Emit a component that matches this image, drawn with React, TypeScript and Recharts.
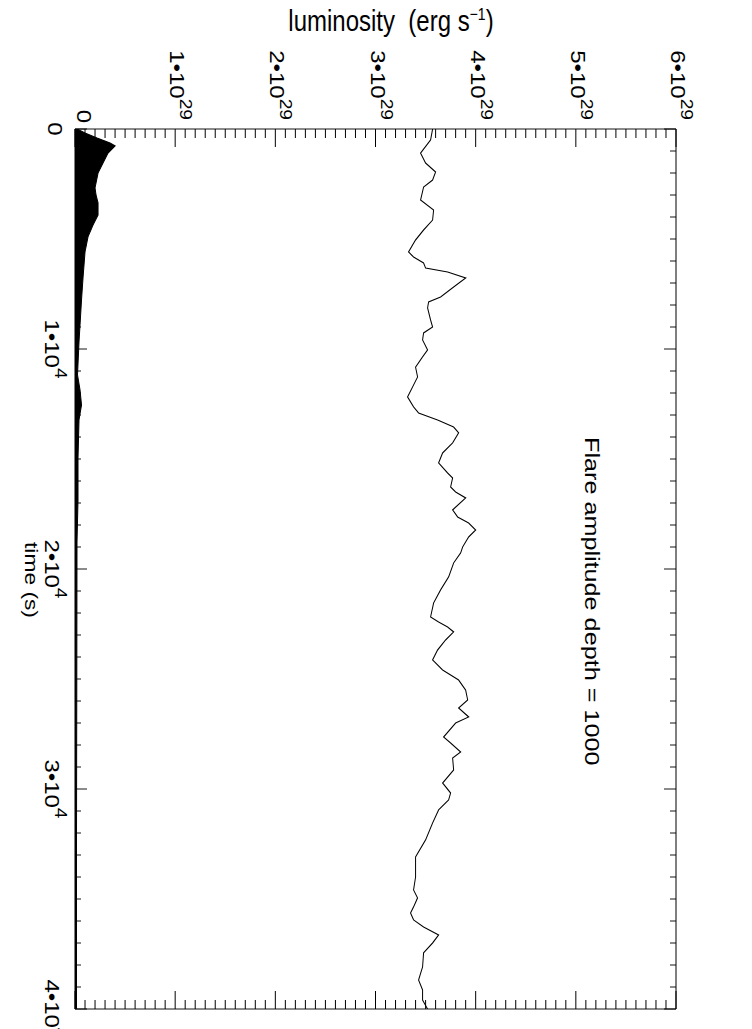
import React from "react";
import { ComposedChart, Line, Area, XAxis, YAxis } from "recharts";

// Page is 752 x 1029; the chart is drawn unrotated and turned 90deg clockwise.
const S = 1.2; // stretch along the time direction
const PAGE_W = 752;
const PAGE_H = 1029;
const CW = PAGE_H / S; // unrotated chart width
const CH = PAGE_W; // unrotated chart height

// Quiescent + flare light curve (time in s, luminosity in 1e29 erg/s)
const LINE_TIME = [0, 500, 1090, 1545, 1955, 2320, 2640, 3230, 3680, 4140, 4590, 5045, 5590, 5820, 6090, 6320, 6500, 6770, 7180, 7635, 7860, 8135, 8680, 9000, 9270, 9590, 10045, 10360, 10820, 11270, 11725, 12180, 12635, 12910, 13225, 13545, 13815, 14270, 14725, 15180, 15635, 15860, 16270, 16500, 16770, 17315, 17635, 17910, 18225, 18545, 19000, 19270, 19725, 20360, 20950, 21545, 22180, 22410, 22635, 22860, 23225, 23680, 24135, 24590, 25045, 25500, 25950, 26315, 26725, 27000, 27635, 27905, 28315, 28590, 29135, 29725, 30180, 30500, 30950, 31545, 32315, 33090, 34000, 34590, 34950, 35360, 35635, 35950, 36270, 36635, 37000, 37450, 38090, 38680, 39135, 39590, 40000];
const LINE_LUM = [3.57, 3.55, 3.45, 3.5, 3.6, 3.57, 3.48, 3.45, 3.58, 3.57, 3.48, 3.4, 3.33, 3.38, 3.48, 3.5, 3.72, 3.9, 3.78, 3.65, 3.53, 3.52, 3.55, 3.57, 3.48, 3.47, 3.52, 3.47, 3.4, 3.42, 3.37, 3.32, 3.38, 3.43, 3.62, 3.78, 3.83, 3.77, 3.67, 3.63, 3.72, 3.77, 3.75, 3.8, 3.9, 3.77, 3.82, 3.93, 4.0, 3.93, 3.87, 3.85, 3.78, 3.73, 3.65, 3.58, 3.55, 3.63, 3.72, 3.78, 3.7, 3.62, 3.57, 3.67, 3.83, 3.9, 3.92, 3.83, 3.93, 3.8, 3.68, 3.75, 3.85, 3.77, 3.78, 3.67, 3.75, 3.73, 3.63, 3.57, 3.5, 3.4, 3.4, 3.38, 3.42, 3.38, 3.35, 3.38, 3.48, 3.63, 3.57, 3.48, 3.47, 3.43, 3.47, 3.47, 3.52];

// Flare-only component (filled)
const FLARE_TIME = [0, 180, 410, 640, 770, 1090, 1545, 2000, 2680, 3000, 3360, 3910, 4360, 4900, 5590, 6770, 7770, 9680, 11180, 11860, 12540, 13225, 14950, 16860, 18770, 25000, 32000, 40000];
const FLARE_LUM = [0.02, 0.1, 0.22, 0.35, 0.4, 0.33, 0.28, 0.23, 0.2, 0.21, 0.23, 0.23, 0.18, 0.13, 0.1, 0.08, 0.065, 0.04, 0.025, 0.05, 0.065, 0.04, 0.03, 0.03, 0.02, 0.018, 0.015, 0.015];

// Axes
const TIME_TICKS = [0, 1000, 2000, 3000, 4000, 5000, 6000, 7000, 8000, 9000, 10000, 11000, 12000, 13000, 14000, 15000, 16000, 17000, 18000, 19000, 20000, 21000, 22000, 23000, 24000, 25000, 26000, 27000, 28000, 29000, 30000, 31000, 32000, 33000, 34000, 35000, 36000, 37000, 38000, 39000, 40000];
const TIME_MAJOR_LABELS = ["0", "1", "2", "3", "4"];
const TIME_EXP = "4";
const LUM_TICKS = [0, 0.1, 0.2, 0.3, 0.4, 0.5, 0.6, 0.7, 0.8, 0.9, 1, 1.1, 1.2, 1.3, 1.4, 1.5, 1.6, 1.7, 1.8, 1.9, 2, 2.1, 2.2, 2.3, 2.4, 2.5, 2.6, 2.7, 2.8, 2.9, 3, 3.1, 3.2, 3.3, 3.4, 3.5, 3.6, 3.7, 3.8, 3.9, 4, 4.1, 4.2, 4.3, 4.4, 4.5, 4.6, 4.7, 4.8, 4.9, 5, 5.1, 5.2, 5.3, 5.4, 5.5, 5.6, 5.7, 5.8, 5.9, 6];
const LUM_MAJOR_LABELS = ["0", "1", "2", "3", "4", "5", "6"];
const LUM_EXP = "29";

const lineData = LINE_TIME.map((t, i) => ({ t, lum: LINE_LUM[i] }));
const flareData = FLARE_TIME.map((t, i) => ({ t, lum: FLARE_LUM[i] }));

const FONT = "'Liberation Sans', Arial, Helvetica, sans-serif";
const TH = 1 / S; // 1 screen px for lines running across the time direction

const PLOT_L = 129 / S;
const PLOT_R = 1009 / S;
const PLOT_T = 76;
const PLOT_B = 677;

const LumLeftTick = (props: any) => {
  const { x, y, index } = props;
  const major = index % 10 === 0;
  const len = (major ? 18 : 9) / S;
  const lab = LUM_MAJOR_LABELS[index / 10];
  return (
    <g>
      <line x1={x} y1={y} x2={x + len} y2={y} stroke="#000" strokeWidth={1} />
      {major && (
        <text
          x={lab === "0" ? x - 5 : x - 7.5}
          y={lab === "0" ? y - 2 : y + 5}
          textAnchor="end"
          fontSize={20}
          fontFamily={FONT}
          fill="#000"
        >
          {lab === "0" ? (
            "0"
          ) : (
            <>
              {lab + "\u202210"}
              <tspan dy={-10} fontSize={16}>{LUM_EXP}</tspan>
            </>
          )}
        </text>
      )}
    </g>
  );
};

const LumRightTick = (props: any) => {
  const { x, y, index } = props;
  const major = index % 10 === 0;
  const len = (major ? 18 : 9) / S;
  return <line x1={x} y1={y} x2={x - len} y2={y} stroke="#000" strokeWidth={1} />;
};

const TimeBottomTick = (props: any) => {
  const { x, y, index } = props;
  const major = index % 10 === 0;
  const len = major ? 12 : 6;
  const lab = TIME_MAJOR_LABELS[index / 10];
  return (
    <g>
      <line x1={x} y1={y} x2={x} y2={y - len} stroke="#000" strokeWidth={TH} />
      {major && (
        <text x={x} y={lab === "0" ? y + 27 : y + 30} textAnchor="middle" fontSize={20} fontFamily={FONT} fill="#000">
          {lab === "0" ? (
            "0"
          ) : (
            <>
              {lab + "\u202210"}
              <tspan dy={-10} fontSize={16}>{TIME_EXP}</tspan>
            </>
          )}
        </text>
      )}
    </g>
  );
};

const TimeTopTick = (props: any) => {
  const { x, y, index } = props;
  const major = index % 10 === 0;
  const len = major ? 12 : 6;
  return <line x1={x} y1={y} x2={x} y2={y + len} stroke="#000" strokeWidth={TH} />;
};

export default function App() {
  return (
    <div style={{ position: "absolute", left: 0, top: 0, width: PAGE_W, height: PAGE_H, overflow: "hidden", background: "#fff" }}>
      <div
        style={{
          position: "absolute",
          left: 0,
          top: 0,
          width: CW,
          height: CH,
          transformOrigin: "0 0",
          transform: `rotate(90deg) translateY(-${CH}px) scaleX(${S})`,
        }}
      >
        <ComposedChart
          width={CW}
          height={CH}
          margin={{ top: PLOT_T - 1, bottom: CH - PLOT_B - 1, left: PLOT_L - 1, right: CW - PLOT_R - 1 }}
          style={{ position: "absolute", left: 0, top: 0 }}
        >
          <XAxis
            xAxisId="b"
            type="number"
            dataKey="t"
            orientation="bottom"
            domain={[0, 40000]}
            allowDataOverflow
            ticks={TIME_TICKS}
            interval={0}
            height={1}
            tickSize={0}
            tickMargin={0}
            tickLine={false}
            axisLine={{ stroke: "#000", strokeWidth: 1 }}
            tick={<TimeBottomTick />}
          />
          <XAxis
            xAxisId="t"
            type="number"
            dataKey="t"
            orientation="top"
            domain={[0, 40000]}
            allowDataOverflow
            ticks={TIME_TICKS}
            interval={0}
            height={1}
            tickSize={0}
            tickMargin={0}
            tickLine={false}
            axisLine={{ stroke: "#000", strokeWidth: 1 }}
            tick={<TimeTopTick />}
          />
          <YAxis
            yAxisId="l"
            type="number"
            orientation="left"
            domain={[0, 6]}
            allowDataOverflow
            ticks={LUM_TICKS}
            interval={0}
            width={1}
            tickSize={0}
            tickMargin={0}
            tickLine={false}
            axisLine={{ stroke: "#000", strokeWidth: TH }}
            tick={<LumLeftTick />}
          />
          <YAxis
            yAxisId="r"
            type="number"
            orientation="right"
            domain={[0, 6]}
            allowDataOverflow
            ticks={LUM_TICKS}
            interval={0}
            width={1}
            tickSize={0}
            tickMargin={0}
            tickLine={false}
            axisLine={{ stroke: "#000", strokeWidth: TH }}
            tick={<LumRightTick />}
          />
          <Area
            xAxisId="b"
            yAxisId="l"
            data={flareData}
            dataKey="lum"
            type="linear"
            stroke="#000"
            strokeWidth={1}
            fill="#000"
            fillOpacity={1}
            dot={false}
            activeDot={false}
            isAnimationActive={false}
          />
          <Line
            xAxisId="b"
            yAxisId="l"
            data={lineData}
            dataKey="lum"
            type="linear"
            stroke="#000"
            strokeWidth={1}
            dot={false}
            activeDot={false}
            isAnimationActive={false}
          />
        </ComposedChart>
        <svg width={CW} height={CH} style={{ position: "absolute", left: 0, top: 0, pointerEvents: "none" }}>
          <text
            x={31 / S}
            y={361}
            transform={`rotate(-90, ${31 / S}, 361)`}
            textAnchor="middle"
            fontSize={24}
            fontFamily={FONT}
            fill="#000"
          >
            {"luminosity\u00a0\u00a0(erg s"}
            <tspan dy={-9} fontSize={14}>{"\u22121"}</tspan>
            <tspan dy={9}>{")"}</tspan>
          </text>
          <text x={580 / S} y={727} textAnchor="middle" fontSize={19} fontFamily={FONT} fill="#000">
            time (s)
          </text>
          <text x={437 / S} y={167} textAnchor="start" fontSize={21} fontFamily={FONT} fill="#000">
            Flare amplitude depth = 1000
          </text>
        </svg>
      </div>
    </div>
  );
}
